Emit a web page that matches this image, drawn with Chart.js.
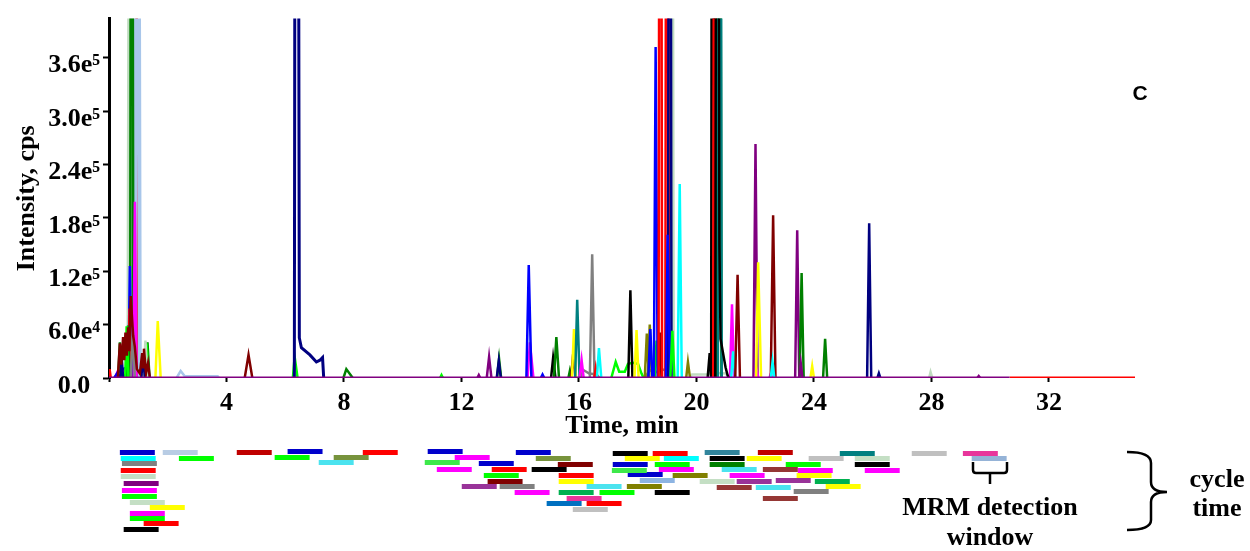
<!DOCTYPE html>
<html>
<head>
<meta charset="utf-8">
<script src="https://cdn.jsdelivr.net/npm/chart.js@4.4.1/dist/chart.umd.min.js"></script>
<style>
  html, body { margin: 0; padding: 0; background: #fff; }
  #wrap { position: relative; width: 1250px; height: 551px; overflow: hidden; }
  #chart { position: absolute; left: 0; top: 0; }
  #mrm { position: absolute; left: 0; top: 440px; }
  #braces { position: absolute; left: 0; top: 0; }
  .lbl {
    position: absolute; transform: translate(-50%, -50%);
    font-family: 'Liberation Serif', 'Times New Roman', serif;
    font-weight: bold; font-size: 26px; line-height: 1; color: #000; white-space: nowrap;
  }
</style>
</head>
<body>
<div id="wrap">
  <canvas id="chart" width="1250" height="440"></canvas>
  <canvas id="mrm" width="1250" height="111"></canvas>
  <svg id="braces" width="1250" height="551">
    <path d="M973 462 L973 470 Q973 473 976 473 L1004 473 Q1007 473 1007 470 L1007 462 M990 473 L990 484"
          fill="none" stroke="#000" stroke-width="2.5"/>
    <path d="M1127 452 Q1151 452 1151 463 L1151 482 Q1151 492 1167 492 Q1151 492 1151 502 L1151 520 Q1151 530 1127 530"
          fill="none" stroke="#000" stroke-width="2.5"/>
  </svg>
  <div class="lbl" style="left:990px; top:507px">MRM detection</div>
  <div class="lbl" style="left:990px; top:537px">window</div>
  <div class="lbl" style="left:1217px; top:479px">cycle</div>
  <div class="lbl" style="left:1217px; top:508px">time</div>
  <div class="lbl" style="left:1140px; top:92px; font-family:'Liberation Sans', Arial, sans-serif; font-size:21px">C</div>
</div>

<script>
// colours used by the traces
const NAVY = '#000080', BLUE = '#0000ff', RED = '#ff0000', MAROON = '#800000';
const GREEN = '#008000', LIME = '#00ff00', MAGENTA = '#ff00ff', CYAN = '#00ffff';
const YELLOW = '#ffff00', BLACK = '#000000', GRAY = '#808080', PURPLE = '#800080';
const TEAL = '#008080', OLIVE = '#808000', LIGHTBLUE = '#a8c6ea', PALE = '#c0dcc0';

// axis ticks
const xTickValues = [0, 4, 8, 12, 16, 20, 24, 28, 32];
const xTickLabels = ['', '4', '8', '12', '16', '20', '24', '28', '32'];
const yTickValues = [0, 6e4, 1.2e5, 1.8e5, 2.4e5, 3.0e5, 3.6e5];
const yTickLabels = ['0.0', '6.0e⁴', '1.2e⁵', '1.8e⁵', '2.4e⁵', '3.0e⁵', '3.6e⁵'];

// single peaks: start, apex and end time (min), apex intensity (cps)
const peakColor = [RED, PALE, LIGHTBLUE, GREEN, MAGENTA, BLUE, RED, GREEN, GREEN, GREEN,
  LIME, LIME, PALE, GRAY, NAVY, NAVY, RED, YELLOW, MAROON, LIME,
  GREEN, LIME, PURPLE, PURPLE, GREEN, NAVY, MAGENTA, BLUE, BLUE, BLACK,
  GREEN, GREEN, MAROON, YELLOW, TEAL, MAGENTA, GRAY, RED, CYAN, BLACK,
  YELLOW, OLIVE, OLIVE, BLUE, LIME, MAROON, BLUE, RED, PALE, RED,
  NAVY, BLUE, LIME, CYAN, OLIVE, BLACK, BLACK, RED, GREEN, TEAL,
  MAGENTA, CYAN, MAROON, PURPLE, MAGENTA, YELLOW, MAGENTA, MAROON, CYAN, PURPLE,
  GREEN, PURPLE, YELLOW, GREEN, NAVY, NAVY, PALE, PURPLE];
const peakStart = [0.89, 0.66, 0.88, 0.72, 0.83, 0.66, 0.65, 0.31, 0.60, 1.25,
  0.55, 1.22, 1.17, 0.74, 0.38, 1.10, 0.00, 1.58, 4.62, 6.26,
  7.98, 11.27, 12.54, 12.86, 13.21, 13.20, 14.25, 14.21, 14.70, 15.05,
  15.15, 15.64, 15.73, 15.76, 15.87, 16.02, 16.37, 16.52, 16.61, 17.68,
  17.89, 18.24, 18.34, 18.36, 18.58, 18.69, 18.55, 18.71, 19.05, 18.94,
  19.03, 18.96, 19.11, 19.36, 19.65, 20.38, 20.50, 20.57, 20.70, 20.73,
  21.14, 21.18, 21.32, 21.94, 21.99, 22.03, 22.48, 22.53, 22.53, 23.36,
  23.51, 23.49, 23.88, 24.31, 25.81, 26.16, 27.92, 29.56];
const peakApex = [0.94, 0.74, 0.96, 0.77, 0.88, 0.71, 0.70, 0.37, 0.65, 1.31,
  0.60, 1.28, 1.24, 0.81, 0.43, 1.16, 0.02, 1.66, 4.75, 6.32,
  8.08, 11.32, 12.59, 12.94, 13.28, 13.27, 14.33, 14.29, 14.76, 15.12,
  15.23, 15.69, 15.80, 15.83, 15.94, 16.09, 16.45, 16.57, 16.68, 17.75,
  17.96, 18.31, 18.41, 18.43, 18.64, 18.75, 18.61, 18.77, 19.13, 19.00,
  19.09, 19.02, 19.18, 19.43, 19.71, 20.45, 20.55, 20.62, 20.77, 20.79,
  21.21, 21.25, 21.40, 22.01, 22.05, 22.10, 22.53, 22.61, 22.59, 23.43,
  23.58, 23.55, 23.94, 24.38, 25.88, 26.21, 27.97, 29.61];
const peakEnd = [0.99, 0.82, 1.05, 0.83, 0.94, 0.76, 0.75, 0.43, 0.70, 1.38,
  0.66, 1.35, 1.31, 0.88, 0.48, 1.22, 0.06, 1.76, 4.88, 6.42,
  8.30, 11.37, 12.64, 13.02, 13.35, 13.34, 14.45, 14.38, 14.82, 15.20,
  15.32, 15.74, 15.88, 15.90, 16.02, 16.16, 16.53, 16.62, 16.76, 17.82,
  18.03, 18.38, 18.48, 18.50, 18.71, 18.81, 18.68, 18.83, 19.20, 19.06,
  19.15, 19.10, 19.25, 19.50, 19.78, 20.50, 20.61, 20.67, 20.85, 20.86,
  21.28, 21.32, 21.48, 22.08, 22.11, 22.20, 22.58, 22.69, 22.65, 23.50,
  23.65, 23.61, 24.00, 24.45, 25.95, 26.26, 28.03, 29.66];
const peakHeight = [4.2e5, 1.2e6, 1.3e6, 1.4e6, 1.98e5, 1.26e5, 7.8e4, 4.0e4, 5.9e4, 4.0e4,
  5.8e4, 3.9e4, 4.2e4, 5.7e4, 2.4e4, 2.6e4, 1.0e4, 6.4e4, 2.6e4, 2.4e4,
  1.0e4, 3.3e3, 3.3e3, 2.37e4, 2.15e4, 1.92e4, 4.0e4, 1.27e5, 4.0e3, 2.26e4,
  4.6e4, 8.0e3, 2.67e4, 5.5e4, 8.8e4, 2.0e4, 1.39e5, 1.1e4, 3.37e4, 9.86e4,
  5.4e4, 5.0e4, 6.0e4, 5.5e4, 4.2e4, 5.1e4, 3.72e5, 1.5e6, 1.3e6, 1.5e6,
  1.5e6, 1.61e5, 5.3e4, 2.18e5, 1.78e4, 2.8e4, 1.5e6, 1.2e6, 1.5e6, 1.5e6,
  8.3e4, 3.0e4, 1.16e5, 2.63e5, 9.0e3, 1.3e5, 4.4e3, 1.83e5, 1.8e4, 1.66e5,
  1.18e5, 1.7e4, 1.33e4, 4.4e4, 1.74e5, 5.2e3, 6.7e3, 2.2e3];

// traces with a more complex shape: [time, intensity]
const redLow = [[0.18, 0], [0.25, 3e3], [1.33, 3e3], [1.36, 0]];
const magentaLow = [[0.20, 0], [0.30, 8e3], [1.30, 8e3], [1.38, 0]];
const blueHump = [[0.18, 0], [0.31, 7e3], [0.54, 1.1e4], [0.70, 1.2e4], [0.81, 4.8e4], [0.92, 1.5e4],
  [0.98, 1.1e4], [1.32, 1.1e4], [1.39, 0]];
const lightBlueDrift = [[2.30, 0], [2.44, 8e3], [2.58, 2e3], [3.70, 2e3], [3.75, 0]];
const grayHump = [[16.05, 0], [16.15, 9e3], [16.35, 5e3], [16.60, 4e3], [16.70, 0]];
const grayWave = [[18.25, 0], [18.40, 9e3], [18.60, 6e3], [18.80, 1.0e4], [19.00, 8e3], [19.08, 0]];
const limeWave = [[17.10, 0], [17.25, 1.8e4], [17.37, 7e3], [17.56, 7e3], [17.67, 1.6e4], [17.84, 1.7e4],
  [18.01, 1.6e4], [18.13, 5e3], [18.20, 0]];
const paleDrift = [[19.75, 0], [19.85, 4e3], [20.40, 4e3], [20.50, 6e3], [21.00, 5e3], [21.10, 0]];
const maroonCluster = [[0.30, 0], [0.37, 3.9e4], [0.42, 1.5e4], [0.48, 4.6e4], [0.52, 2.0e4], [0.56, 5.1e4],
  [0.61, 2.5e4], [0.65, 5.7e4], [0.69, 3.0e4], [0.74, 9.2e4], [0.82, 4.8e4], [0.88, 3.5e4], [0.95, 1.0e4],
  [1.05, 5e3], [1.13, 2.8e4], [1.16, 1.2e4], [1.19, 3.3e4], [1.26, 5e3], [1.33, 1.7e4], [1.39, 0]];
const navyTail = [[6.31, 0], [6.38, 2.0e6], [6.48, 4.5e4], [6.55, 3.4e4], [6.84, 2.6e4], [7.06, 1.8e4],
  [7.18, 2.0e4], [7.27, 2.3e4], [7.31, 0]];
const blackTail = [[20.64, 0], [20.71, 1.5e6], [20.78, 1.5e5], [20.82, 4.4e4], [20.99, 1.2e4], [21.06, 3e3], [21.10, 0]];
const baselinePurple = [[0, 0], [30.66, 0]];
const baselineRed = [[30.66, 0], [34.93, 0]];

// MRM detection windows: start / end time (min), lane (row from the top)
const windowStart = [0.37, 1.83, 0.40, 2.38, 0.44, 0.40, 0.40, 0.50, 0.44, 0.44,
  0.71, 1.39, 0.71, 0.71, 1.18, 0.50, 4.35, 6.08, 5.64, 7.65,
  7.14, 8.64, 10.85, 11.77, 10.75, 12.59, 11.16, 13.03, 12.76, 12.89,
  12.01, 13.30, 13.81, 13.85, 14.53, 15.28, 14.39, 15.31, 15.31, 15.31,
  15.58, 14.90, 16.26, 15.79, 16.26, 16.70, 17.15, 18.51, 17.56, 18.89,
  17.15, 18.58, 17.12, 18.72, 17.66, 18.07, 19.19, 17.63, 18.58, 20.28,
  20.45, 20.45, 20.86, 21.13, 20.11, 21.37, 20.69, 22.09, 21.71, 22.26,
  23.04, 23.45, 23.41, 22.70, 22.02, 24.03, 24.40, 23.31, 22.26, 23.82,
  24.88, 25.39, 25.39, 25.73, 27.33, 29.07, 29.37];
const windowEnd = [1.56, 3.02, 1.59, 3.57, 1.63, 1.59, 1.59, 1.69, 1.63, 1.63,
  1.90, 2.58, 1.90, 1.90, 2.37, 1.69, 5.54, 7.27, 6.83, 8.84,
  8.33, 9.83, 12.04, 12.96, 11.94, 13.78, 12.35, 14.22, 13.95, 14.08,
  13.20, 14.49, 15.00, 15.04, 15.72, 16.47, 15.58, 16.50, 16.50, 16.50,
  16.77, 16.09, 17.45, 16.98, 17.45, 17.89, 18.34, 19.70, 18.75, 20.08,
  18.34, 19.77, 18.31, 19.91, 18.85, 19.26, 20.38, 18.82, 19.77, 21.47,
  21.64, 21.64, 22.05, 22.32, 21.30, 22.56, 21.88, 23.28, 22.90, 23.45,
  24.23, 24.64, 24.60, 23.89, 23.21, 25.22, 25.59, 24.50, 23.45, 25.01,
  26.07, 26.58, 26.58, 26.92, 28.52, 30.26, 30.56];
const windowLane = [2.08, 2.08, 3.08, 3.08, 3.92, 5.08, 6.08, 7.25, 8.42, 9.42,
  10.42, 11.25, 12.25, 13.08, 13.92, 14.92, 2.08, 1.92, 2.92, 2.92,
  3.75, 2.08, 1.92, 2.92, 3.75, 3.92, 4.92, 4.92, 5.92, 6.92,
  7.75, 7.75, 8.75, 2.08, 3.08, 4.08, 4.92, 5.92, 6.92, 8.75,
  9.75, 10.58, 10.58, 11.58, 7.75, 8.75, 2.25, 2.25, 3.08, 3.08,
  4.08, 4.08, 5.08, 4.92, 5.75, 6.75, 5.92, 7.75, 8.75, 2.08,
  3.08, 4.08, 4.92, 5.92, 6.92, 6.92, 7.92, 2.08, 3.08, 4.92,
  4.08, 5.08, 5.92, 6.75, 7.92, 6.92, 7.75, 8.58, 9.75, 3.08,
  2.25, 3.08, 4.08, 5.08, 2.25, 2.25, 3.08];
const windowColor = ['#0000cc', '#b8cce4', CYAN, LIME, GRAY, RED, '#c4dfc4', PURPLE, MAGENTA, LIME,
  '#c4dfc4', YELLOW, MAGENTA, LIME, RED, BLACK, '#c00000', '#0000cc', LIME, '#77933c',
  '#4be3ef', RED, '#0000cc', MAGENTA, '#3de84a', '#0000cc', MAGENTA, RED, LIME, MAROON,
  '#993399', GRAY, MAGENTA, '#0000cc', '#77933c', MAROON, BLACK, RED, YELLOW, '#00b050',
  '#e8359b', '#0070c0', RED, '#c0c0c0', '#4be3ef', LIME, BLACK, RED, YELLOW, CYAN,
  '#0000cc', LIME, '#3de84a', MAGENTA, '#0000cc', '#8db4e2', OLIVE, OLIVE, BLACK, '#31859c',
  BLACK, GREEN, '#4be3ef', MAGENTA, '#c4dfc4', '#993399', '#953735', '#c00000', YELLOW, '#953735',
  LIME, MAGENTA, YELLOW, '#993399', '#4be3ef', '#00b050', YELLOW, GRAY, '#953735', '#c0c0c0',
  TEAL, '#c4dfc4', BLACK, MAGENTA, '#c0c0c0', '#e8359b', '#95b3d7'];

const serif = "'Liberation Serif', 'Times New Roman', serif";

function lineSet(points, color, width) {
  return {
    data: points.map(p => ({ x: p[0], y: p[1] })),
    borderColor: color,
    borderWidth: width || 2.5,
    pointRadius: 0,
    tension: 0,
    fill: false
  };
}

// build from bottom layer to top layer, then reverse (dataset 0 is drawn last)
const layers = [];
layers.push(lineSet(redLow, RED));
layers.push(lineSet(magentaLow, MAGENTA));
layers.push(lineSet(blueHump, BLUE));
layers.push(lineSet(lightBlueDrift, LIGHTBLUE));
layers.push(lineSet(grayHump, GRAY));
layers.push(lineSet(grayWave, GRAY));
layers.push(lineSet(limeWave, LIME));
layers.push(lineSet(paleDrift, PALE));
peakColor.forEach((c, i) => {
  const wide = (c === PALE || c === LIGHTBLUE) && peakHeight[i] > 1e6;
  layers.push(lineSet([[peakStart[i], 0], [peakApex[i], peakHeight[i]], [peakEnd[i], 0]], c, wide ? 4 : 2.5));
});
layers.push(lineSet(maroonCluster, MAROON));
layers.push(lineSet(navyTail, NAVY, 3));
layers.push(lineSet(blackTail, BLACK));
layers.push(lineSet(baselineRed, RED, 3));
layers.push(lineSet(baselinePurple, PURPLE, 3));
const datasets = layers.reverse();

const boldFont = (size, lh) => ({ family: serif, size: size, weight: 'bold', lineHeight: lh || 1.2 });

new Chart(document.getElementById('chart'), {
  type: 'line',
  data: { datasets: datasets },
  options: {
    responsive: false,
    animation: false,
    events: [],
    layout: { padding: { top: 13, right: 115, left: 0, bottom: 0 } },
    plugins: { legend: { display: false }, tooltip: { enabled: false } },
    scales: {
      x: {
        type: 'linear', min: 0, max: 34.93,
        afterFit: s => { s.height = 62; },
        afterBuildTicks: s => { s.ticks = xTickValues.map(v => ({ value: v })); },
        grid: { drawOnChartArea: false, color: '#000', tickLength: 4, tickWidth: 2 },
        border: { display: false },
        ticks: {
          color: '#000', padding: 6, maxRotation: 0, autoSkip: false, font: boldFont(26),
          callback: (v, i) => xTickLabels[i]
        },
        title: { display: true, text: 'Time, min', color: '#000', font: boldFont(26, 1.05), padding: { top: 0, bottom: 0 } }
      },
      y: {
        type: 'linear', min: 0, max: 4.04e5,
        afterFit: s => { s.width = 109; },
        afterBuildTicks: s => { s.ticks = yTickValues.map(v => ({ value: v })); },
        grid: { drawOnChartArea: false, color: '#000', tickLength: 6, tickWidth: 2 },
        border: { display: true, color: '#000', width: 3 },
        ticks: {
          color: '#000', padding: 3, labelOffset: 8, crossAlign: 'center', autoSkip: false, font: boldFont(26),
          callback: (v, i) => yTickLabels[i]
        },
        title: { display: true, text: 'Intensity, cps', color: '#000', font: boldFont(26), padding: { top: 12, bottom: 0 } }
      }
    }
  }
});

// lower panel: MRM detection windows on the same time scale
const windowSets = windowStart.map((s, i) => ({
  data: [{ x: s, y: windowLane[i] }, { x: windowEnd[i], y: windowLane[i] }],
  borderColor: windowColor[i],
  borderWidth: 5,
  borderCapStyle: 'butt',
  pointRadius: 0
}));

new Chart(document.getElementById('mrm'), {
  type: 'line',
  data: { datasets: windowSets },
  options: {
    responsive: false,
    animation: false,
    events: [],
    layout: { padding: { top: 0, right: 115, left: 109, bottom: 0 } },
    plugins: { legend: { display: false }, tooltip: { enabled: false } },
    scales: {
      x: { type: 'linear', min: 0, max: 34.93, display: false },
      y: { type: 'linear', min: 0, max: 18.5, reverse: true, display: false }
    }
  }
});
</script>
</body>
</html>
